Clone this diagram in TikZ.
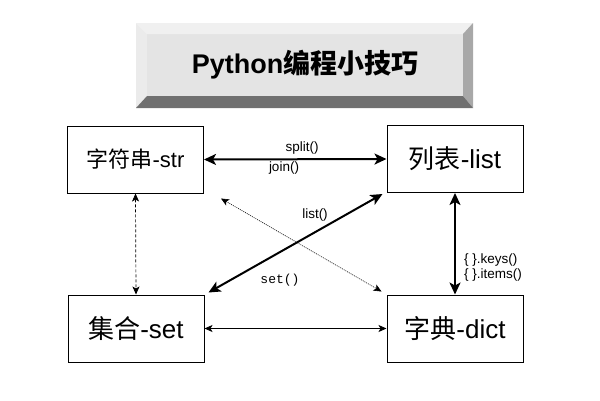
\documentclass[tikz,border=0pt]{standalone}
\usepackage{fontspec}
\setmainfont{Liberation Sans}
\setmonofont{Liberation Mono}
\newfontfamily\cjk{Noto Sans CJK SC}
\usepackage{tikz}
\usetikzlibrary{arrows.meta}
\definecolor{bevtop}{HTML}{F0F0F0}
\definecolor{bevleft}{HTML}{EBEBEB}
\definecolor{bevface}{HTML}{E4E4E4}
\definecolor{bevright}{HTML}{A8A8A8}
\definecolor{bevbottom}{HTML}{707070}
\tikzset{
  typebox/.style={draw, line width=1pt, minimum width=136pt, minimum height=67pt,
    inner sep=0pt, font=\fontsize{26}{30}\selectfont},
  fatarrow/.style={line width=2pt,
    {Stealth[length=12pt,width=11pt,inset=3pt]}-{Stealth[length=12pt,width=11pt,inset=3pt]}},
  thinarrow/.style={line width=0.8pt,
    {Stealth[length=8pt,width=7pt,inset=2pt]}-{Stealth[length=8pt,width=7pt,inset=2pt]}},
  dasharrow/.style={thinarrow, line width=0.7pt, dash pattern=on 3pt off 2pt},
  dotarrow/.style={thinarrow, line width=0.6pt, dash pattern=on 1pt off 1pt},
  method/.style={font=\fontsize{13.5}{16}\selectfont, inner sep=0pt}
}

\begin{document}
\begin{tikzpicture}[x=1pt, y=-1pt]
    \useasboundingbox (0,0) rectangle (600,400);
    % Title button
    \fill[bevface] (147,34) rectangle (463,96);
    \fill[bevtop] (136,23) -- (473,23) -- (463,34) -- (147,34) -- cycle;
    \fill[bevleft] (136,23) -- (147,34) -- (147,96) -- (136,108) -- cycle;
    \fill[bevright] (473,23) -- (473,108) -- (463,96) -- (463,34) -- cycle;
    \fill[bevbottom] (136,108) -- (147,96) -- (463,96) -- (473,108) -- cycle;
    \node[font=\fontsize{27}{32}\selectfont\bfseries] (title) at (305,65) {Python{\cjk 编程小技巧}};
    % Boxes
    \node[typebox, font=\fontsize{22}{26}\selectfont] (strbox) at (135.5,159.5) {{\cjk 字符串}-str};
    \node[typebox] (listbox) at (455,159) {{\cjk 列表}-list};
    \node[typebox] (setbox) at (136,328.5) {{\cjk 集合}-set};
    \node[typebox] (dictbox) at (455,328.5) {{\cjk 字典}-dict};
    % Connections
    \draw[fatarrow] (strbox.east) -- (listbox.west);
    \node[method] (split) at (302,148) {split()};
    \node[method] (join) at (284,168) {join()};
    \draw[dasharrow] (strbox.south) -- (setbox.north);
    \draw[dotarrow] ([shift={(17,5)}]strbox.south east) -- ([shift={(-5,-3)}]dictbox.north west);
    \draw[fatarrow] ([shift={(4,-2)}]setbox.north east) -- ([shift={(-4,1)}]listbox.south west);
    \node[method] (tolist) at (315,215) {list()};
    \node[method, font=\fontsize{13}{15}\selectfont\ttfamily] (toset) at (280,280) {set()};
    \draw[fatarrow] (listbox.south) -- (dictbox.north);
    \node[method, anchor=west] (keys) at (464,260) {\{ \}.keys()};
    \node[method, anchor=west] (items) at (464,275) {\{ \}.items()};
    \draw[thinarrow] (setbox.east) -- (dictbox.west);
\end{tikzpicture}
\end{document}
